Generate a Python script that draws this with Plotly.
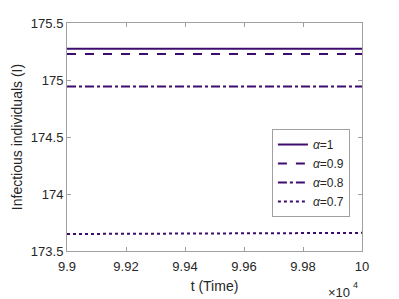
import plotly.graph_objects as go

t = [99000, 99200, 99400, 99600, 99800, 100000]
alpha_labels = ["1", "0.9", "0.8", "0.7"]
I_a1 = [175.275, 175.275, 175.275, 175.275, 175.275, 175.275]
I_a09 = [175.228, 175.228, 175.228, 175.228, 175.228, 175.228]
I_a08 = [174.942, 174.942, 174.942, 174.942, 174.942, 174.942]
I_a07 = [173.649, 173.651, 173.653, 173.655, 173.657, 173.659]
xtick_vals = [99000, 99200, 99400, 99600, 99800, 100000]
xtick_text = ["9.9", "9.92", "9.94", "9.96", "9.98", "10"]
ytick_vals = [173.5, 174, 174.5, 175, 175.5]
ytick_text = ["173.5", "174", "174.5", "175", "175.5"]

color = "#3d0c6e"
series = [I_a1, I_a09, I_a08, I_a07]
dashes = ["solid", "dash", "dashdot", "dot"]

fig = go.Figure()
for lab, ys, d in zip(alpha_labels, series, dashes):
    fig.add_trace(go.Scatter(x=t, y=ys, mode="lines", name="<i>α</i>=" + lab,
                             line=dict(color=color, width=2, dash=d)))

axis_common = dict(showgrid=False, zeroline=False, showline=True, linecolor="#a0a0a0",
                   linewidth=1, mirror="ticks", ticks="inside", ticklen=4, automargin=False,
                   tickcolor="#a0a0a0", tickfont=dict(size=13, color="#262626"))
fig.update_xaxes(range=[99000, 100000], tickvals=xtick_vals, ticktext=xtick_text,
                 ticklabelstandoff=3,
                 title=dict(text="t (Time)", font=dict(size=14, color="#262626"), standoff=8),
                 **axis_common)
fig.update_yaxes(range=[173.5, 175.5], tickvals=ytick_vals, ticktext=ytick_text,
                 title=dict(text="Infectious individuals (I)", font=dict(size=14, color="#262626"), standoff=4),
                 **axis_common)
fig.add_annotation(text="×10", xref="paper", yref="paper", x=0.966, y=-0.18,
                   xanchor="right", yanchor="middle", showarrow=False,
                   font=dict(size=13, color="#262626"))
fig.add_annotation(text="4", xref="paper", yref="paper", x=0.962, y=-0.15,
                   xanchor="left", yanchor="middle", showarrow=False,
                   font=dict(size=9, color="#262626"))
fig.update_layout(width=391, height=291, margin=dict(l=59, r=37, t=15, b=48, autoexpand=False),
                  paper_bgcolor="white", plot_bgcolor="white",
                  font=dict(family="Liberation Sans, Arial, sans-serif"),
                  legend=dict(x=0.959, y=0.535, xanchor="right", yanchor="top",
                              bgcolor="white", bordercolor="#a0a0a0", borderwidth=1,
                              font=dict(size=12, color="#262626"), tracegroupgap=0,
                              itemwidth=30))
fig.write_html("out.html")
